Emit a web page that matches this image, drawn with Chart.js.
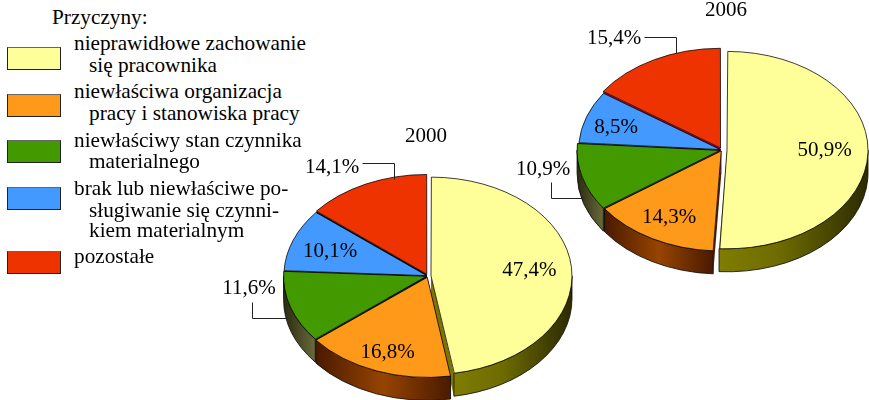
<!DOCTYPE html>
<html lang="pl">
<head>
<meta charset="utf-8">
<script src="https://cdn.jsdelivr.net/npm/chart.js@4"></script>
<style>
html,body{margin:0;padding:0;background:#fff;width:869px;height:400px;overflow:hidden}
canvas{position:absolute}
.t{position:absolute;font:21.25px/21px "Liberation Serif",serif;color:#000;white-space:pre}
.s{position:absolute;width:52px;height:21px;border:1px solid #222;border-top-color:#666}
</style>
</head>
<body>
<canvas id="c2000" width="420" height="300" style="left:218px;top:126px"></canvas>
<canvas id="c2006" width="430" height="300" style="left:507px;top:0"></canvas>
<script>
const categories = ["nieprawidłowe zachowanie","niewłaściwa organizacja","niewłaściwy stan czynnika","brak lub niewłaściwe po-","pozostałe"];
const categoryContinuation = [["się pracownika"],["pracy i stanowiska pracy"],["materialnego"],["sługiwanie się czynni-","kiem materialnym"],[]];
const legendTitle = "Przyczyny:";
const values2000 = [47.4,16.8,11.6,10.1,14.1];
const values2006 = [50.9,14.3,10.9,8.5,15.4];
const colors = ["#FFFF99","#FF9919","#429900","#4499FF","#EE3300"];
const edgeColors = ["#7d7600","#4a1c00","#142000","#00568c","#a5002c"];
const wallStops = [
  [[0,"#807d00"],[0.4,"#6e6c00"],[1,"#2c2a00"]],
  [[0,"#4a1a00"],[0.5,"#964400"],[1,"#4a1a00"]],
  [[0,"#2a2a10"],[1,"#6a6a3c"]],
  [[0,"#222"],[1,"#222"]],
  [[0,"#222"],[1,"#222"]]
];
const fmt = v => v.toFixed(1).replace(".",",")+"%";

// legend
const legendBaselines = [[50,71.7],[98,120],[146.7,167.7],[195,216.7,237.3],[263.3]];
const swatchTops = [46.5,94,139.7,187,250.6];
function addText(txt,x,base){
  const d=document.createElement("div");d.className="t";d.textContent=txt;
  d.style.left=x+"px";d.style.top=(base-17)+"px";document.body.appendChild(d);
}
addText(legendTitle,52,24);
categories.forEach((c,i)=>{
  const s=document.createElement("div");s.className="s";s.style.background=colors[i];
  s.style.left="7px";s.style.top=swatchTops[i]+"px";document.body.appendChild(s);
  addText(c,74,legendBaselines[i][0]);
  categoryContinuation[i].forEach((l,j)=>addText(l,89,legendBaselines[i][j+1]));
});

const K = 0.7, DEPTH = 23;
const FONT = '21px "Liberation Serif", serif';

const pie3d = {
  id:"pie3d",
  afterDatasetsUpdate(chart){
    const cfg=chart.options.plugins.pie3d, meta=chart.getDatasetMeta(0);
    meta.data.forEach((a,i)=>{
      const off=cfg.shift[i];
      const fix=1-Math.sin(Math.min(Math.PI,a.circumference));
      a.outerRadius=cfg.radii[i]-off*fix;
    });
  },
  beforeDatasetsDraw(chart){
    const cfg=chart.options.plugins.pie3d, ctx=chart.ctx, arcs=chart.getDatasetMeta(0).data;
    const cx=arcs[0].x, cy=arcs[0].y, d=DEPTH/K;
    ctx.save();
    ctx.translate(cx,cy);ctx.scale(1,K);ctx.translate(-cx,-cy);
    const origin=a=>{
      const i=arcs.indexOf(a), h=(a.startAngle+a.endAngle)/2;
      return [a.x+Math.cos(h)*cfg.shift[i], a.y+Math.sin(h)*cfg.shift[i]];
    };
    // cut faces
    arcs.forEach((a,i)=>{
      const [x,y]=origin(a), r=cfg.radii[i];
      [a.startAngle,a.endAngle].forEach(t=>{
        ctx.beginPath();
        ctx.moveTo(x,y);ctx.lineTo(x+Math.cos(t)*r,y+Math.sin(t)*r);
        ctx.lineTo(x+Math.cos(t)*r,y+Math.sin(t)*r+d);ctx.lineTo(x,y+d);ctx.closePath();
        ctx.fillStyle=cfg.cutColors[i];ctx.fill();
      });
    });
    // outer walls
    arcs.forEach((a,i)=>{
      const a1=Math.max(a.startAngle,0), a2=Math.min(a.endAngle,Math.PI);
      if(a2<=a1) return;
      const [x,y]=origin(a), r=cfg.radii[i];
      const xs=[x+Math.cos(a1)*r,x+Math.cos(a2)*r];
      if(a1<=0) xs.push(x+r);
      const g=ctx.createLinearGradient(Math.min(...xs),0,Math.max(...xs),0);
      wallStops[i].forEach(s=>g.addColorStop(s[0],s[1]));
      ctx.beginPath();
      ctx.arc(x,y,r,a1,a2);
      ctx.arc(x,y+d,r,a2,a1,true);
      ctx.closePath();
      ctx.fillStyle=g;ctx.fill();
      ctx.lineWidth=1;ctx.strokeStyle="#111";ctx.stroke();
    });
  },
  afterDatasetsDraw(chart){
    const cfg=chart.options.plugins.pie3d, ctx=chart.ctx, arcs=chart.getDatasetMeta(0).data;
    ctx.restore();
    const cx=arcs[0].x, cy=arcs[0].y;
    ctx.save();
    ctx.font=FONT;ctx.fillStyle="#000";ctx.textAlign="center";ctx.textBaseline="alphabetic";
    ctx.fillText(cfg.year,cx+cfg.yearPos[0],cy+cfg.yearPos[1]);
    chart.data.datasets[0].data.forEach((v,i)=>{
      const p=cfg.labelPos[i];
      ctx.fillStyle="#000";
      ctx.fillText(fmt(v),cx+p[0],cy+p[1]);
    });
    ctx.strokeStyle="#222";ctx.lineWidth=1;
    cfg.leaders.forEach(l=>{
      ctx.beginPath();
      l.forEach((p,j)=>{
        const X=Math.round(cx+p[0])+0.5, Y=Math.round(cy+p[1])+0.5;
        j?ctx.lineTo(X,Y):ctx.moveTo(X,Y);
      });
      ctx.stroke();
    });
    ctx.restore();
  }
};

function makePie(id,values,cfg){
  return new Chart(document.getElementById(id),{
    type:"pie",
    plugins:[pie3d],
    data:{labels:categories,datasets:[{
      data:values,backgroundColor:colors,borderColor:"#000",borderWidth:0.9,
      offset:cfg.shift.map(s=>s*4),clip:false
    }]},
    options:{
      responsive:false,animation:false,devicePixelRatio:1,events:[],
      radius:143,
      layout:{padding:0},
      plugins:{legend:{display:false},title:{display:false},tooltip:{enabled:false},pie3d:cfg}
    }
  });
}

makePie("c2000",values2000,{
  year:"2000",yearPos:[-2,-134],
  shift:[3,2,1.5,1.2,2.8],radii:[141,143,143,143,142.5],
  cutColors:["#7d7600","#4a1c00","#142000","#062a50","#1a0808"],
  labelPos:[[101.3,0],[-40.5,82],[-179,18],[-98,-19],[-96,-103]],
  leaders:[[[-66,-113],[-34,-113],[-34,-97]],[[-176,26],[-176,42],[-141,42]]]
});
makePie("c2006",values2006,{
  year:"2006",yearPos:[4,-134],
  shift:[5,1.5,2,1.5,3.2],radii:[141,143,143,142,142.5],
  cutColors:edgeColors,
  labelPos:[[102.5,6],[-53,73],[-179,25],[-106,-17],[-108,-106]],
  leaders:[[[-78,-113],[-46,-113],[-46,-97]],[[-171,32],[-171,48],[-139,48]]]
});
</script>
</body>
</html>
